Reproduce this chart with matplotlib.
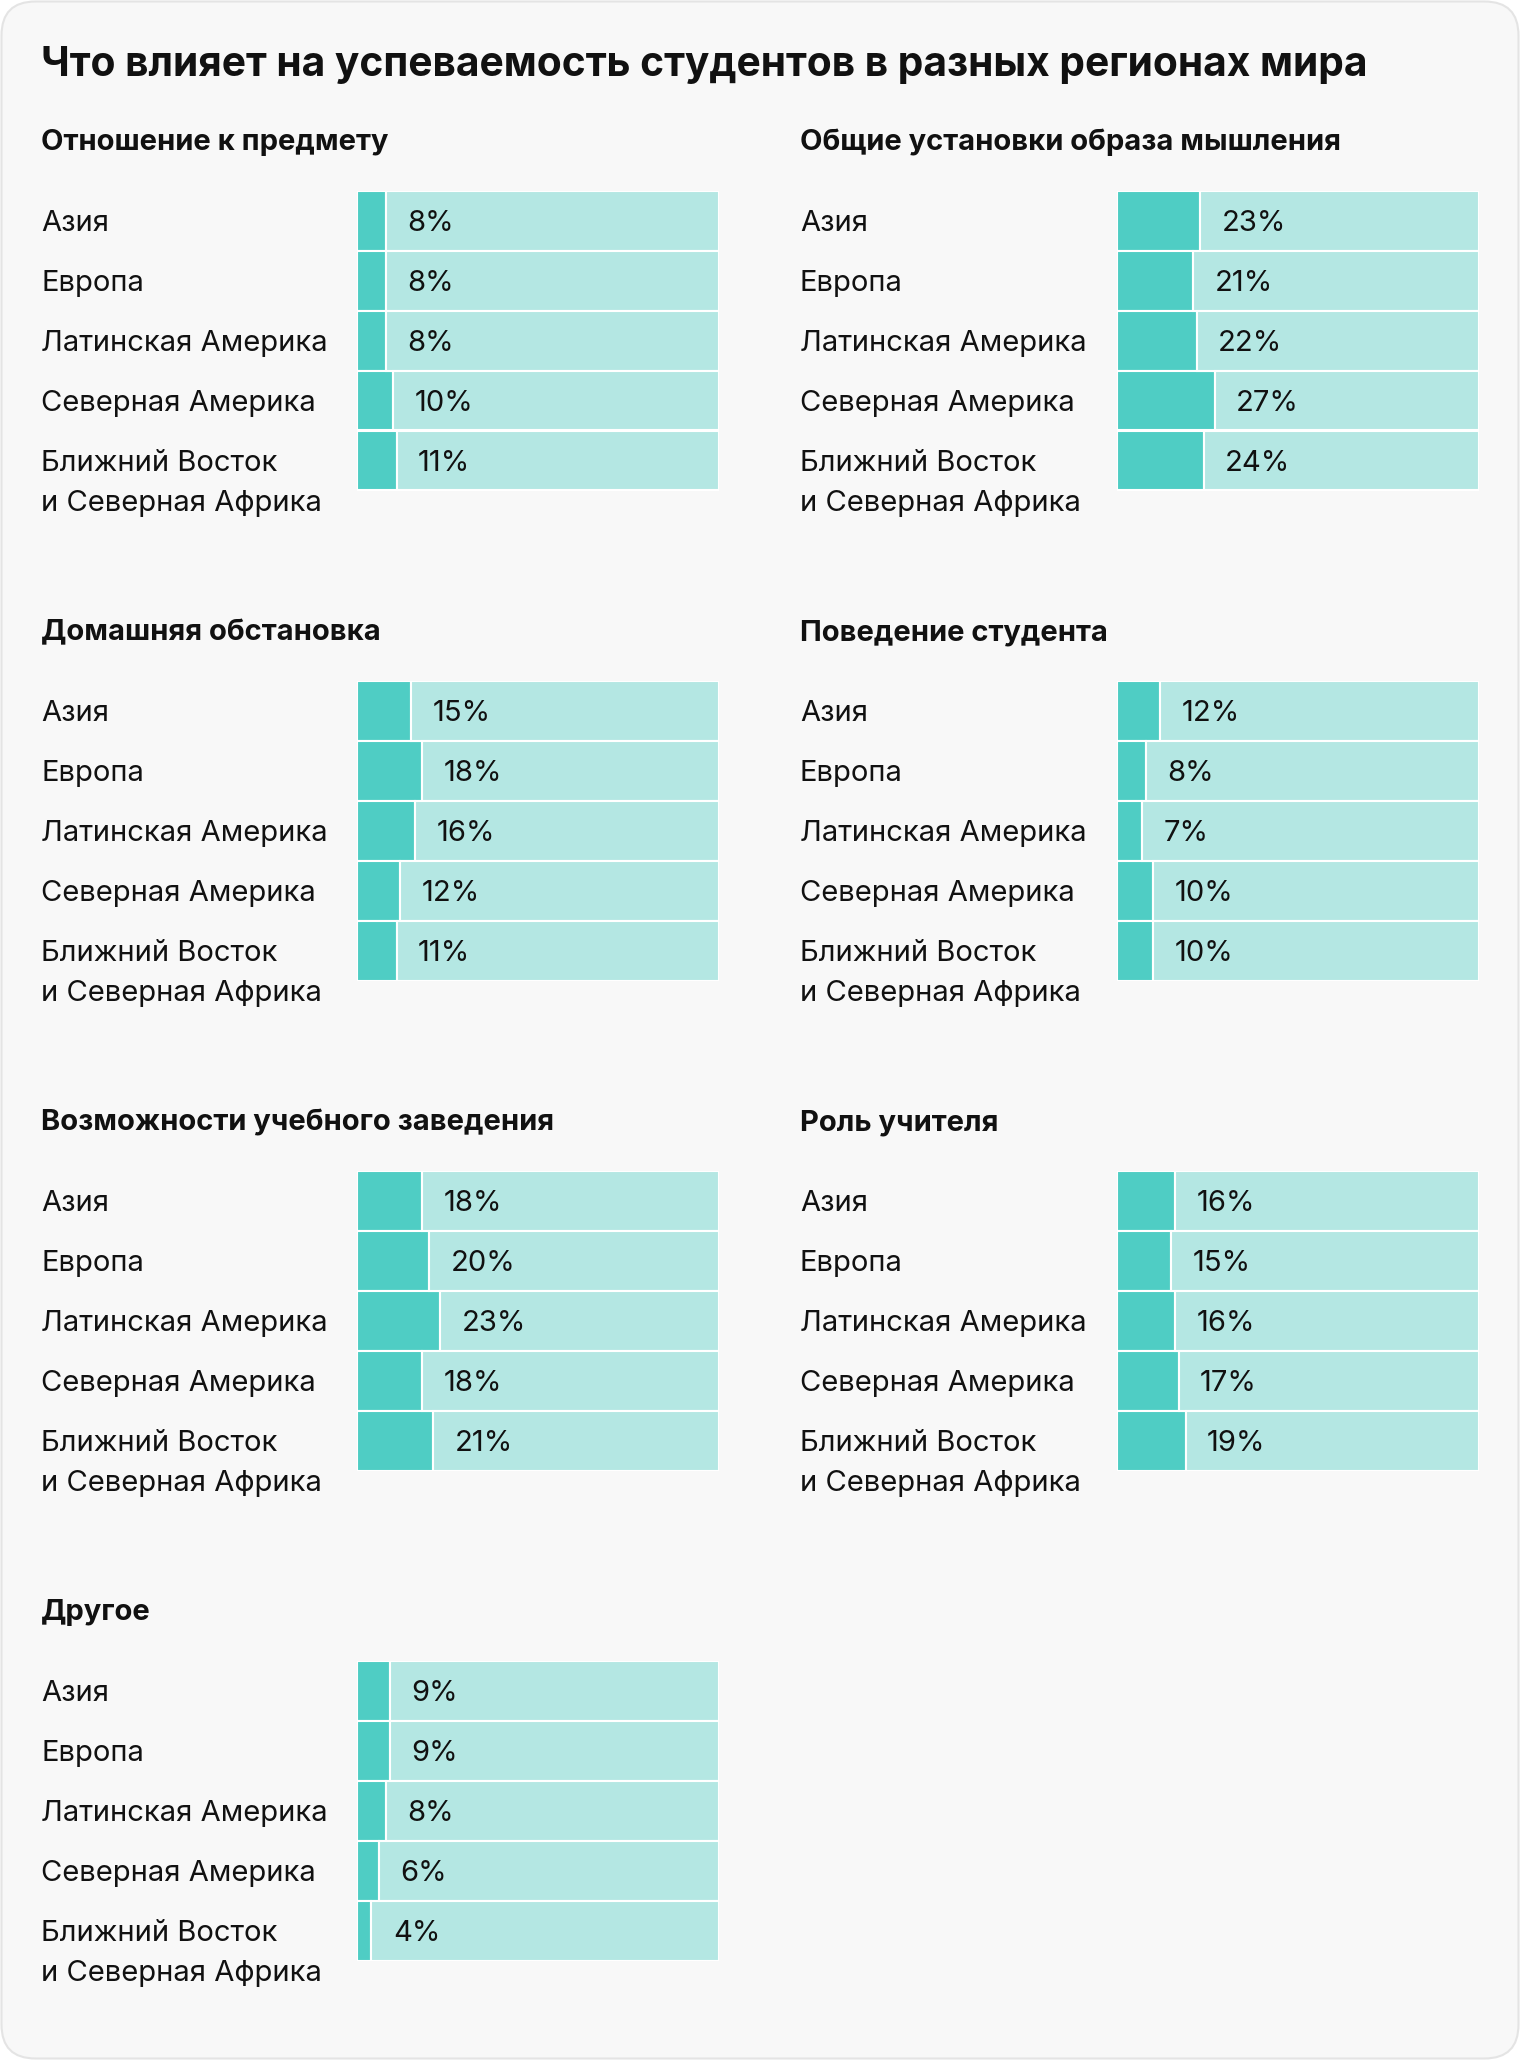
import matplotlib.pyplot as plt
from matplotlib.patches import FancyBboxPatch
from matplotlib.transforms import blended_transform_factory

plt.rcParams['font.family'] = ['Inter', 'DejaVu Sans']

# данные
title = "Что влияет на успеваемость студентов в разных регионах мира"
regions = ["Азия", "Европа", "Латинская Америка", "Северная Америка",
           "Ближний Восток\nи Северная Африка"]

panel_titles = [
    "Отношение к предмету",
    "Общие установки образа мышления",
    "Домашняя обстановка",
    "Поведение студента",
    "Возможности учебного заведения",
    "Роль учителя",
    "Другое",
]
attitude = [8, 8, 8, 10, 11]
mindset = [23, 21, 22, 27, 24]
home = [15, 18, 16, 12, 11]
behaviour = [12, 8, 7, 10, 10]
school = [18, 20, 23, 18, 21]
teacher = [16, 15, 16, 17, 19]
other = [9, 9, 8, 6, 4]
panel_values = [attitude, mindset, home, behaviour, school, teacher, other]

DARK = "#4fcdc4"
LIGHT = "#b4e7e3"
BG = "#f8f8f8"

W, H = 1520, 2060
fig = plt.figure(figsize=(W / 100, H / 100), dpi=100)
fig.patch.set_facecolor("white")

# фон с закруглёнными углами (в пикселях)
bg = FancyBboxPatch((1.5, 1.5), W - 3, H - 3,
                    boxstyle="round,pad=0,rounding_size=34",
                    facecolor=BG, edgecolor="#e4e4e4", linewidth=1.5,
                    transform=None, zorder=-10)
fig.add_artist(bg)

fig.text(41 / W, 1 - 65.5 / H, title, fontsize=29.3, fontweight="bold",
         va="center", ha="left", color="#111111")

col_label_x = [41, 800]
col_bar_x = [357, 1117]
bar_w = 362
row_title_y = [142.5, 632.5, 1122.5, 1612.5]
row_bar_y = [190.5, 680.5, 1170.5, 1660.5]
rows_h = 300
dy = 0.045  # небольшой сдвиг подписей вниз

for i, (ptitle, vals) in enumerate(zip(panel_titles, panel_values)):
    col, row = i % 2, i // 2
    fig.text(col_label_x[col] / W, 1 - row_title_y[row] / H, ptitle,
             fontsize=21, fontweight="bold", va="center", ha="left",
             color="#111111")

    ax = fig.add_axes([col_bar_x[col] / W, 1 - (row_bar_y[row] + rows_h) / H,
                       bar_w / W, rows_h / H])
    ax.set_xlim(0, 100)
    ax.set_ylim(len(vals) - 0.5, -0.5)
    ax.axis("off")
    y = list(range(len(vals)))
    rest = [100 - v for v in vals]
    ax.barh(y, vals, height=1.0, color=DARK, edgecolor="white", linewidth=1.5)
    ax.barh(y, rest, left=vals, height=1.0, color=LIGHT, edgecolor="white",
            linewidth=1.5)
    for yy, v in zip(y, vals):
        ax.text(v + 5.9, yy + dy, f"{v}%", fontsize=21, va="center",
                ha="left", color="#111111")

    tr = blended_transform_factory(fig.transFigure, ax.transData)
    for yy, lab in zip(y, regions):
        for k, line in enumerate(lab.split("\n")):
            ax.text(col_label_x[col] / W, yy + dy + k * 0.667, line,
                    transform=tr, fontsize=21, va="center", ha="left",
                    color="#111111", clip_on=False)

fig.savefig("out.png", dpi=100, facecolor="white")
